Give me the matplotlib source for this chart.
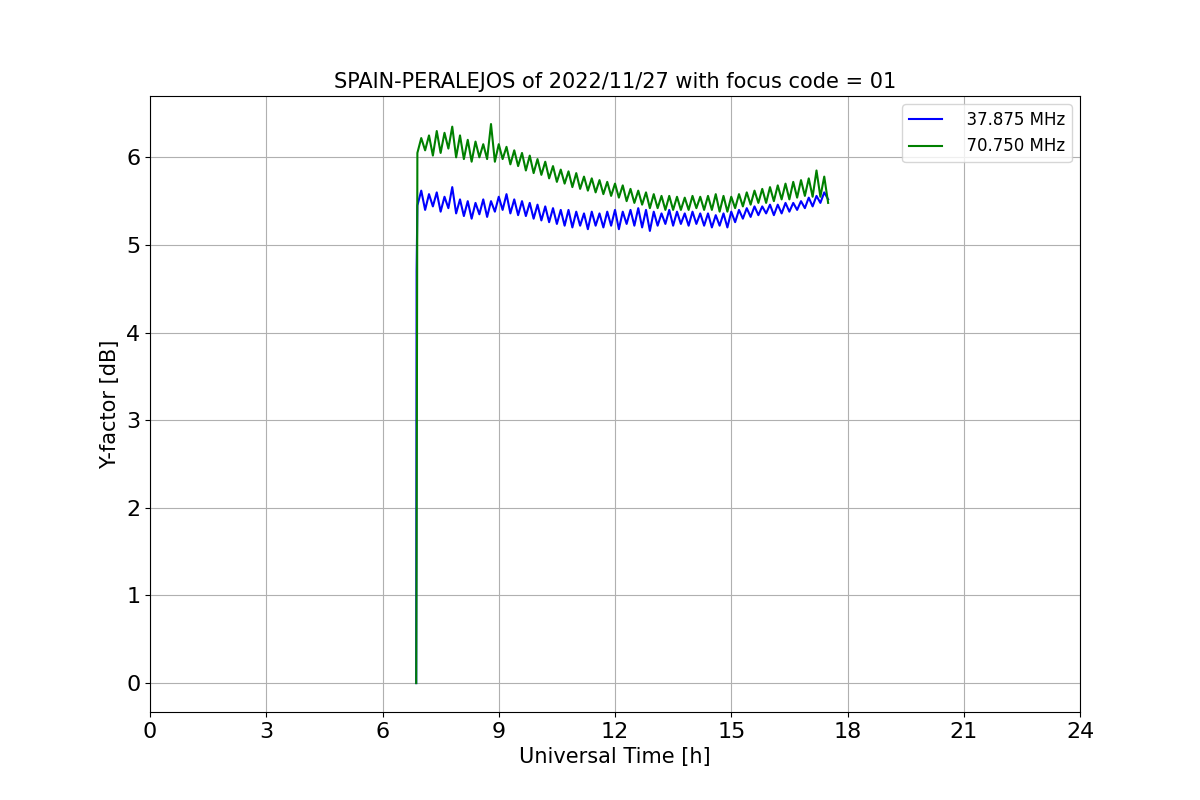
import numpy as np
import matplotlib
matplotlib.use("Agg")
import matplotlib.pyplot as plt

title = "SPAIN-PERALEJOS of 2022/11/27 with focus code = 01"
series_labels = ["  37.875 MHz", "  70.750 MHz"]
xticks = [0, 3, 6, 9, 12, 15, 18, 21, 24]

start_times = [6.87, 6.88]
start_blue = [0.0, 4.7]
start_green = [0.0, 1.5]
t_step = 0.1
t_first = 6.9
blue = [5.45,5.62,5.40,5.58,5.44,5.60,5.38,5.55,5.42,5.66,
        5.36,5.52,5.33,5.50,5.30,5.48,5.35,5.52,5.32,5.50,
        5.38,5.55,5.40,5.58,5.36,5.52,5.34,5.50,5.33,5.48,
        5.30,5.46,5.28,5.44,5.26,5.42,5.24,5.40,5.22,5.40,
        5.20,5.38,5.22,5.36,5.18,5.38,5.22,5.36,5.20,5.38,
        5.22,5.40,5.18,5.38,5.24,5.40,5.22,5.42,5.20,5.40,
        5.16,5.38,5.22,5.36,5.24,5.40,5.22,5.38,5.24,5.36,
        5.22,5.38,5.24,5.36,5.22,5.36,5.20,5.34,5.22,5.36,
        5.20,5.38,5.26,5.40,5.30,5.42,5.32,5.44,5.34,5.44,
        5.36,5.46,5.34,5.46,5.36,5.48,5.38,5.48,5.40,5.50,
        5.42,5.54,5.44,5.56,5.48,5.60,5.52]
green = [6.05,6.22,6.08,6.25,6.02,6.30,6.05,6.28,6.10,6.35,
         6.00,6.25,5.98,6.20,5.95,6.18,6.00,6.15,5.98,6.38,
         5.95,6.15,5.98,6.12,5.92,6.08,5.90,6.05,5.85,6.02,
         5.82,5.98,5.80,5.95,5.76,5.90,5.72,5.86,5.70,5.84,
         5.66,5.82,5.64,5.78,5.62,5.76,5.60,5.74,5.58,5.72,
         5.56,5.70,5.54,5.68,5.50,5.64,5.48,5.62,5.46,5.60,
         5.42,5.58,5.42,5.56,5.40,5.56,5.40,5.55,5.40,5.54,
         5.40,5.56,5.42,5.55,5.40,5.56,5.40,5.58,5.38,5.56,
         5.38,5.55,5.42,5.58,5.44,5.60,5.46,5.62,5.48,5.64,
         5.48,5.66,5.50,5.68,5.52,5.70,5.52,5.72,5.54,5.74,
         5.56,5.76,5.55,5.85,5.55,5.78,5.48]

t = np.concatenate([start_times, t_first + t_step * np.arange(len(blue))])
yb = np.concatenate([start_blue, blue])
yg = np.concatenate([start_green, green])

fig, ax = plt.subplots(figsize=(12, 8), dpi=100)
ax.plot(t, yb, color="blue", lw=1.5, label=series_labels[0])
ax.plot(t, yg, color="green", lw=1.5, label=series_labels[1])
ax.set_xlim(0, 24)
ax.set_ylim(-0.33, 6.7)
ax.set_xticks(xticks)
ax.tick_params(labelsize=16)
ax.grid(True)
ax.set_xlabel("Universal Time [h]", fontsize=15)
ax.set_ylabel("Y-factor [dB]", fontsize=15)
ax.set_title(title, fontsize=15)
ax.legend(loc="upper right", fontsize=12)
fig.savefig("out.png")
